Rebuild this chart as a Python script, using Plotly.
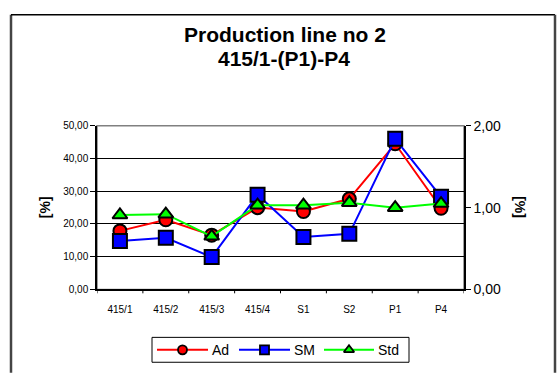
import plotly.graph_objects as go

categories = ["415/1", "415/2", "415/3", "415/4", "S1", "S2", "P1", "P4"]
ad = [17.9, 21.3, 16.6, 25.0, 23.8, 27.7, 44.5, 24.8]
sm = [14.8, 15.8, 9.9, 28.9, 16.0, 17.0, 46.0, 28.3]
std = [0.91, 0.92, 0.65, 1.03, 1.03, 1.06, 1.00, 1.05]

left_ticks = [0, 10, 20, 30, 40, 50]
left_tick_text = ["0,00", "10,00", "20,00", "30,00", "40,00", "50,00"]
right_ticks = [0, 1, 2]
right_tick_text = ["0,00", "1,00", "2,00"]

W, H = 557, 376
# plot area in pixels
PL, PR, PT, PB = 97, 464, 123, 294

def fx(x):
    return x / W

def fy(y):
    return 1 - y / H

series = [
    ("Ad", ad, "#ff0000", "circle", 13, "y"),
    ("SM", sm, "#0000ff", "square", 14, "y"),
    ("Std", std, "#00ff00", "triangle-up", 13, "y2"),
]

fig = go.Figure()
idx = list(range(len(categories)))
for name, vals, color, symbol, size, yax in series:
    fig.add_trace(go.Scatter(
        x=idx, y=vals, name=name, mode="lines+markers", yaxis=yax,
        line=dict(color=color, width=2),
        marker=dict(symbol=symbol, size=size, color=color, line=dict(color="black", width=2)),
        showlegend=False))

# legend drawn on a pixel-scaled overlay axis
legend_items = [("Ad", 157, 208), ("SM", 239, 290), ("Std", 324, 374)]
LY = 357
for (name, x0, x1), (_, _, color, symbol, _, _) in zip(legend_items, series):
    fig.add_trace(go.Scatter(x=[x0, x1], y=[LY, LY], mode="lines", xaxis="x3", yaxis="y3",
                             line=dict(color=color, width=2), showlegend=False, hoverinfo="skip"))
    fig.add_trace(go.Scatter(x=[(x0 + x1) / 2], y=[LY], mode="markers", xaxis="x3", yaxis="y3",
                             marker=dict(symbol=symbol, size=9, color=color,
                                         line=dict(color="black", width=1.8)),
                             showlegend=False, hoverinfo="skip"))
    fig.add_annotation(x=x1 + 2, y=LY, xref="x3", yref="y3", text=name, showarrow=False,
                       xanchor="left", yanchor="middle", font=dict(size=14))

fig.add_shape(type="rect", xref="paper", yref="paper", x0=fx(152), x1=fx(409), y0=fy(344), y1=fy(370),
              line=dict(color="black", width=1))

# outer chart frame
fig.add_shape(type="line", xref="paper", yref="paper", x0=fx(11), x1=fx(11), y0=fy(7), y1=fy(H + 5),
              line=dict(color="#444444", width=2.5))
fig.add_shape(type="line", xref="paper", yref="paper", x0=fx(11), x1=fx(555), y0=fy(7), y1=fy(7),
              line=dict(color="black", width=1.5))
fig.add_shape(type="line", xref="paper", yref="paper", x0=fx(555), x1=fx(555), y0=fy(7), y1=fy(H + 5),
              line=dict(color="#444444", width=2.5))
# plot area frame
fig.add_shape(type="rect", xref="paper", yref="paper", x0=fx(PL), x1=fx(PR), y0=fy(PB), y1=fy(PT),
              line=dict(color="#808080", width=1.5), layer="below")

# category boundary ticks on the x axis
for b in range(len(categories) + 1):
    fig.add_shape(type="line", xref="x", yref="paper", x0=b - 0.5, x1=b - 0.5,
                  y0=fy(PB), y1=fy(PB + 4), line=dict(color="black", width=1))

fig.add_annotation(text="<b>Production line no 2</b>", x=fx(285), y=fy(28), xref="paper", yref="paper",
                   showarrow=False, xanchor="center", yanchor="middle", font=dict(size=21))
fig.add_annotation(text="<b>415/1-(P1)-P4</b>", x=fx(284), y=fy(53), xref="paper", yref="paper",
                   showarrow=False, xanchor="center", yanchor="middle", font=dict(size=21))

fig.add_annotation(text="<b>[%]</b>", x=fx(45), y=fy(208), xref="paper", yref="paper",
                   showarrow=False, textangle=-90, xanchor="center", yanchor="middle",
                   font=dict(size=14))
fig.add_annotation(text="<b>[%]</b>", x=fx(520), y=fy(208), xref="paper", yref="paper",
                   showarrow=False, textangle=90, xanchor="center", yanchor="middle",
                   font=dict(size=14))

fig.update_layout(
    width=W, height=H,
    margin=dict(l=0, r=0, t=0, b=0),
    paper_bgcolor="white", plot_bgcolor="rgba(0,0,0,0)",
    font=dict(family="Liberation Sans, Arial", color="black"),
    showlegend=False,
    xaxis=dict(domain=[fx(PL), fx(PR)], anchor="y", range=[-0.5, 7.5], tickvals=idx,
               ticktext=categories, showgrid=False, showline=True, linecolor="black",
               linewidth=1.5, ticks="", ticklabelstandoff=10, tickfont=dict(size=10),
               zeroline=False),
    yaxis=dict(domain=[fy(PB), fy(PT)], anchor="x", range=[0, 50], tickvals=left_ticks,
               ticktext=left_tick_text, showgrid=True, gridcolor="black", gridwidth=1,
               showline=True, linecolor="black", linewidth=1.5,
               ticks="outside", ticklen=5, tickcolor="black",
               tickfont=dict(size=10), zeroline=False),
    yaxis2=dict(range=[0, 2], tickvals=right_ticks, ticktext=right_tick_text,
                overlaying="y", side="right", anchor="x", showgrid=False,
                showline=True, linecolor="black", linewidth=1.5,
                ticks="outside", ticklen=5, tickcolor="black",
                tickfont=dict(size=14), zeroline=False),
    xaxis3=dict(domain=[0, 1], anchor="y3", range=[0, W], visible=False, fixedrange=True),
    yaxis3=dict(domain=[0, 1], anchor="x3", range=[H, 0], visible=False, fixedrange=True),
)

fig.write_html("out.html")
